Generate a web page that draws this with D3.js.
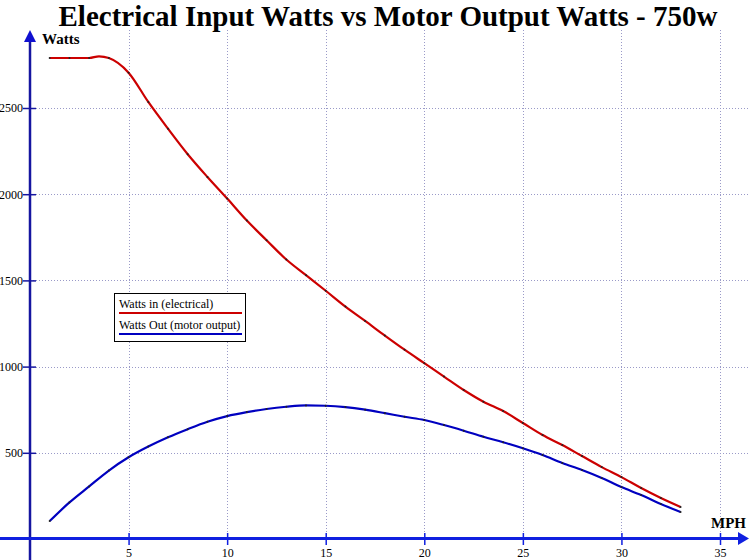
<!DOCTYPE html>
<html>
<head>
<meta charset="utf-8">
<script src="https://cdn.jsdelivr.net/npm/d3@7"></script>
<style>
html,body{margin:0;padding:0;background:#fff;}
svg{display:block;}
</style>
</head>
<body>
<svg id="chart" width="749" height="560"></svg>
<script>
const titleText = "Electrical Input Watts vs Motor Output Watts - 750w";
const yLabel = "Watts";
const xLabel = "MPH";
const xTicks = [5, 10, 15, 20, 25, 30, 35];
const yTicks = [500, 1000, 1500, 2000, 2500];

const wattsInMph = [1, 2, 3, 3.5, 4, 5, 6, 7, 8, 9, 10, 11, 12, 13, 14, 15, 16, 17, 18, 19, 20, 21, 22, 23, 24, 25, 26, 27, 28, 29, 30, 31, 32, 33];
const wattsIn = [2790, 2790, 2790, 2800, 2790, 2705, 2535, 2380, 2232, 2100, 1975, 1847, 1733, 1621, 1530, 1440, 1348, 1265, 1180, 1098, 1020, 942, 864, 796, 742, 673, 603, 545, 481, 417, 359, 296, 238, 186];

const wattsOutMph = [1, 2, 3, 4, 5, 6, 7, 8, 9, 10, 11, 12, 13, 14, 15, 16, 17, 18, 19, 20, 21, 22, 23, 24, 25, 26, 27, 28, 29, 30, 31, 32, 33];
const wattsOut = [104, 212, 305, 397, 474, 536, 590, 637, 680, 713, 736, 754, 767, 775, 773, 765, 750, 730, 709, 690, 661, 628, 593, 561, 526, 487, 441, 400, 354, 301, 255, 203, 157];

const seriesNames = ["Watts in (electrical)", "Watts Out (motor output)"];
const seriesColors = ["#cc0000", "#0000c0"];

const serif = "'Liberation Serif', 'Times New Roman', serif";
const svg = d3.select("#chart");
const x = d3.scaleLinear().domain([0, 35]).range([30, 720]);
const y = d3.scaleLinear().domain([0, 2500]).range([539, 108]);

// grid
const grid = svg.append("g").attr("stroke", "#9a9ac8").attr("stroke-width", 1).attr("stroke-dasharray", "1,2");
grid.selectAll("line.v").data(xTicks).join("line")
  .attr("x1", d => Math.round(x(d)) + 0.5).attr("x2", d => Math.round(x(d)) + 0.5)
  .attr("y1", 30).attr("y2", 539);
grid.selectAll("line.h").data(yTicks).join("line")
  .attr("y1", d => Math.round(y(d)) + 0.5).attr("y2", d => Math.round(y(d)) + 0.5)
  .attr("x1", 30).attr("x2", 749);

// title
svg.append("text").attr("x", 388).attr("y", 26).attr("text-anchor", "middle")
  .attr("font-family", serif).attr("font-weight", "bold")
  .attr("font-size", 29).attr("fill", "#000").text(titleText);

// y axis
const yAxis = d3.axisLeft(y).tickValues(yTicks).tickSize(7).tickPadding(0).tickFormat(d3.format("d"));
const gy = svg.append("g").attr("transform", "translate(30,0)").call(yAxis);
gy.select(".domain").remove();
gy.selectAll(".tick line").attr("x1", -7).attr("x2", 6).attr("stroke", "#1515a0").attr("stroke-width", 1.5);
gy.selectAll(".tick text").attr("x", -7).attr("font-family", serif).attr("font-size", 12).attr("fill", "#000");
svg.append("line").attr("x1", 30).attr("x2", 30).attr("y1", 38).attr("y2", 560).attr("stroke", "#1515a0").attr("stroke-width", 2.5);
svg.append("path").attr("d", "M30,30 L24,42 L36,42 Z").attr("fill", "#1010d0");

// x axis
const xAxis = d3.axisBottom(x).tickValues(xTicks).tickSize(6).tickPadding(3).tickFormat(d3.format("d"));
const gx = svg.append("g").attr("transform", "translate(0,539)").call(xAxis);
gx.select(".domain").remove();
gx.selectAll(".tick line").attr("y1", -6).attr("y2", 6).attr("stroke", "#1020e0").attr("stroke-width", 1.5);
gx.selectAll(".tick text").attr("font-family", serif).attr("font-size", 12).attr("fill", "#000");
svg.append("line").attr("x1", 0).attr("x2", 740).attr("y1", 538.5).attr("y2", 538.5).attr("stroke", "#1020e0").attr("stroke-width", 3);
svg.append("path").attr("d", "M749,538.5 L738,532 L738,545 Z").attr("fill", "#1020e0");

// axis labels
svg.append("text").attr("x", 42).attr("y", 44)
  .attr("font-family", serif).attr("font-weight", "bold")
  .attr("font-size", 15).attr("fill", "#000").text(yLabel);
svg.append("text").attr("x", 746).attr("y", 528).attr("text-anchor", "end")
  .attr("font-family", serif).attr("font-weight", "bold")
  .attr("font-size", 15).attr("fill", "#000").text(xLabel);

// lines
const line = d3.line().x(d => x(d[0])).y(d => y(d[1])).curve(d3.curveMonotoneX);
const dataIn = wattsInMph.map((m, i) => [m, wattsIn[i]]);
const dataOut = wattsOutMph.map((m, i) => [m, wattsOut[i]]);
[dataIn, dataOut].forEach((data, k) => {
  svg.append("path").datum(data).attr("d", line).attr("fill", "none")
    .attr("stroke", seriesColors[k]).attr("stroke-width", 2.2).attr("stroke-linejoin", "round");
  svg.append("g").selectAll("circle").data(data.filter(d => Number.isInteger(d[0]))).join("circle")
    .attr("cx", d => x(d[0])).attr("cy", d => y(d[1])).attr("r", 1).attr("fill", "#222");
});

// legend
const lg = svg.append("g");
lg.append("rect").attr("x", 114.5).attr("y", 293.5).attr("width", 131).attr("height", 48)
  .attr("fill", "#fff").attr("stroke", "#000").attr("stroke-width", 1);
seriesNames.forEach((name, k) => {
  const by = 308 + k * 21;
  lg.append("text").attr("x", 119).attr("y", by)
    .attr("font-family", serif).attr("font-size", 12)
    .attr("fill", "#000").text(name);
  lg.append("line").attr("x1", 119).attr("x2", 242).attr("y1", by + 5).attr("y2", by + 5)
    .attr("stroke", seriesColors[k]).attr("stroke-width", 2);
});
</script>
</body>
</html>
